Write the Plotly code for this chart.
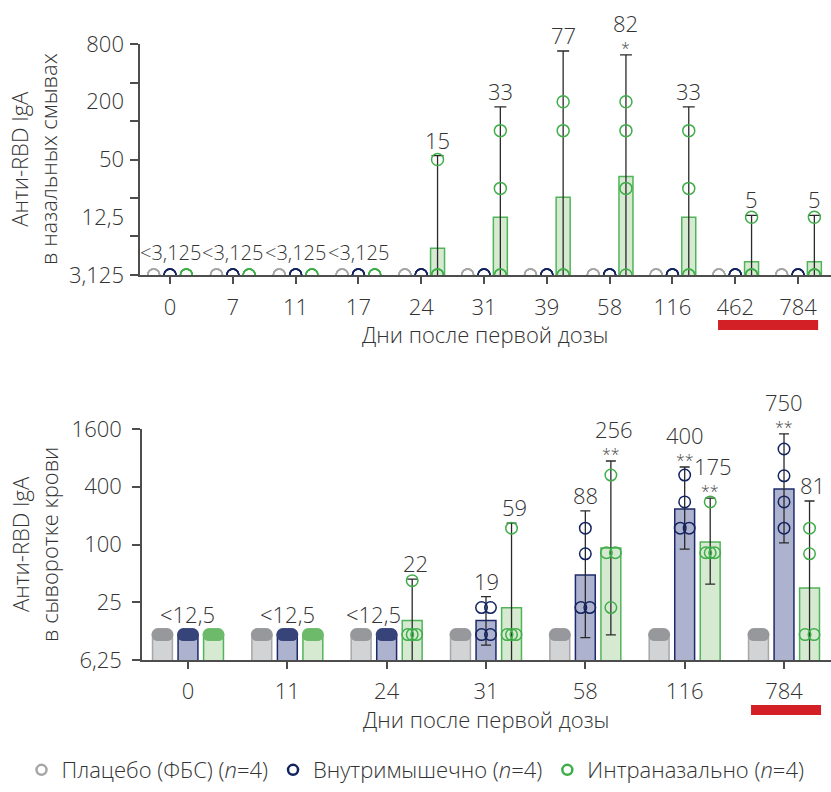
import math
import plotly.graph_objects as go

# ---------------- data: top panel (nasal wash IgA) ----------------
L1 = 3.125  # plotted detection limit, top panel
top_days = ["0", "7", "11", "17", "24", "31", "39", "58", "116", "462", "784"]
top_placebo = [[L1, L1, L1, L1]] * 11
top_im = [[L1, L1, L1, L1]] * 11
top_in = [
    [L1, L1, L1, L1], [L1, L1, L1, L1], [L1, L1, L1, L1], [L1, L1, L1, L1],
    [50, L1, L1, L1], [100, 25, L1, L1], [200, 100, L1, L1], [200, 100, 25, L1],
    [100, 25, L1, L1], [12.5, L1, L1, L1], [12.5, L1, L1, L1],
]
top_in_bar = [None, None, None, None, 5.95, 12.5, 20.2, 33.2, 12.5, 4.3, 4.3]
top_in_err_hi = [None, None, None, None, 55, 177, 676, 615, 177, 13.1, 13.1]
top_in_err_lo = [None, None, None, None, 3.0, 3.0, 3.0, 3.0, 3.0, 3.0, 3.0]
top_in_labels = ["", "", "", "", "15", "33", "77", "82", "33", "5", "5"]
top_in_stars = ["", "", "", "", "", "", "", "*", "", "", ""]
top_lod_label = ["<3,125", "<3,125", "<3,125", "<3,125", "", "", "", "", "", "", ""]
top_y_ticks = [3.125, 7.9, 19.8, 50, 126, 317, 800]
top_y_labels_v = [3.125, 12.5, 50, 200, 800]
top_y_labels_t = ["3,125", "12,5", "50", "200", "800"]

# ---------------- data: bottom panel (serum IgA) ----------------
L2 = 11.5  # plotted detection limit, bottom panel
bot_days = ["0", "11", "24", "31", "58", "116", "784"]
bot_placebo = [[L2, L2, L2, L2]] * 7
bot_im = [
    [L2, L2, L2, L2], [L2, L2, L2, L2], [L2, L2, L2, L2],
    [22, 22, L2, L2], [148, 80, 22, 22], [530, 278, 148, 148], [990, 520, 278, 148],
]
bot_in = [
    [L2, L2, L2, L2], [L2, L2, L2, L2], [42, L2, L2, L2],
    [148, L2, L2, L2], [530, 82, 82, 22], [278, 82, 82, 82], [148, 80, L2, L2],
]
bot_placebo_bar = [11.5, 11.5, 11.5, 11.5, 11.5, 11.5, 11.5]
bot_im_bar = [11.5, 11.5, 11.5, 16.1, 48, 234, 379]
bot_in_bar = [11.5, 11.5, 16.1, 21.9, 92, 106, 35.2]
bot_im_err_hi = [None, None, None, 28.6, 224, 643, 1420]
bot_im_err_lo = [None, None, None, 8.95, 10.7, 89.6, 104]
bot_in_err_hi = [None, None, 43.6, 167, 742, 305, 284]
bot_in_err_lo = [None, None, 6.0, 6.0, 11.4, 38.7, 6.0]
bot_im_labels = ["", "", "", "19", "88", "400", "750"]
bot_im_stars = ["", "", "", "", "", "**", "**"]
bot_in_labels = ["", "", "22", "59", "256", "175", "81"]
bot_in_stars = ["", "", "", "", "**", "**", ""]
bot_lod_label = ["<12,5", "<12,5", "<12,5", "", "", "", ""]
bot_y_labels_v = [6.25, 25, 100, 400, 1600]
bot_y_labels_t = ["6,25", "25", "100", "400", "1600"]

series_names = ["Плацебо (ФБС) (<i>n</i>=4)", "Внутримышечно (<i>n</i>=4)", "Интраназально (<i>n</i>=4)"]

# ---------------- styles ----------------
W, H = 831, 792
FONT = "'Open Sans', 'Noto Sans', sans-serif"
FW = 300
FS = 22
TXT = "#333333"
AX = "#4d4d4d"
ERR = "#2a2a2a"
STAR = "#4a4a4a"
pt_col = ["#a6a6a6", "#13235f", "#3fae49"]
bar_fill = ["#d2d3d5", "#adb2cf", "#d6ead2"]
bar_line = ["#a7a7a9", "#1d2b6a", "#52b45a"]
cap_fill = ["#97989b", "#37447a", "#6cba6a"]
RED = "#d32027"

top_off = [-0.26, 0.0, 0.26]
bot_off = [-0.257, 0.0, 0.257]


def fnt(size=FS, color=TXT):
    return dict(size=size, color=color, family=FONT, weight=FW)


fig = go.Figure()


def err_arrays(bar, hi, lo):
    up, dn = [], []
    for b, h, l in zip(bar, hi, lo):
        if b is None or h is None:
            up.append(float("nan"))
            dn.append(float("nan"))
        else:
            up.append(h - b)
            dn.append(b - l)
    return up, dn


def swarm(vals, center, span):
    counts = {}
    for v in vals:
        counts[v] = counts.get(v, 0) + 1
    seen = {}
    xs = []
    for v in vals:
        k = counts[v]
        i = seen.get(v, 0)
        seen[v] = i + 1
        xs.append(center if k == 1 else center - span / 2 + span * i / (k - 1))
    return xs


# ---------- top panel ----------
up, dn = err_arrays(top_in_bar, top_in_err_hi, top_in_err_lo)
fig.add_trace(go.Bar(
    x=[i + top_off[2] for i in range(len(top_days))],
    y=[b if b is not None else float("nan") for b in top_in_bar],
    width=0.223,
    marker=dict(color=bar_fill[2], line=dict(color=bar_line[2], width=1.5)),
    error_y=dict(type="data", array=up, arrayminus=dn, symmetric=False,
                 color=ERR, thickness=1.3, width=6),
    xaxis="x", yaxis="y", showlegend=False, hoverinfo="skip"))

for s, groups in enumerate([top_placebo, top_im, top_in]):
    xs, ys = [], []
    for i, vals in enumerate(groups):
        xs += swarm(vals, i + top_off[s], 0.0)
        ys += vals
    fig.add_trace(go.Scatter(
        x=xs, y=ys, mode="markers", xaxis="x", yaxis="y", showlegend=False,
        marker=dict(symbol="circle-open", size=12, color=pt_col[s], line=dict(width=1.5)),
        hoverinfo="skip"))

# ---------- bottom panel ----------
bot_bars = [bot_placebo_bar, bot_im_bar, bot_in_bar]
bot_hi = [[None] * 7, bot_im_err_hi, bot_in_err_hi]
bot_lo = [[None] * 7, bot_im_err_lo, bot_in_err_lo]
for s in range(3):
    up, dn = err_arrays(bot_bars[s], bot_hi[s], bot_lo[s])
    fig.add_trace(go.Bar(
        x=[i + bot_off[s] for i in range(len(bot_days))],
        y=bot_bars[s], width=0.2,
        marker=dict(color=bar_fill[s], line=dict(color=bar_line[s], width=1.5)),
        error_y=dict(type="data", array=up, arrayminus=dn, symmetric=False,
                     color=ERR, thickness=1.3, width=5),
        xaxis="x2", yaxis="y2", showlegend=False, hoverinfo="skip"))

for s, groups in enumerate([bot_placebo, bot_im, bot_in]):
    ox, oy, fx, fy = [], [], [], []
    for i, vals in enumerate(groups):
        xs = swarm(vals, i + bot_off[s], 0.09)
        if len(set(vals)) == 1:
            fx += xs
            fy += vals
        else:
            ox += xs
            oy += vals
    fig.add_trace(go.Scatter(
        x=fx, y=fy, mode="markers", xaxis="x2", yaxis="y2", showlegend=False,
        marker=dict(symbol="circle", size=13, color=cap_fill[s], line=dict(width=0)),
        hoverinfo="skip"))
    fig.add_trace(go.Scatter(
        x=ox, y=oy, mode="markers", xaxis="x2", yaxis="y2", showlegend=False,
        marker=dict(symbol="circle-open", size=11.5, color=pt_col[s], line=dict(width=1.5)),
        hoverinfo="skip"))

# legend-only traces
for s in range(3):
    fig.add_trace(go.Scatter(
        x=[None], y=[None], mode="markers", name=series_names[s], xaxis="x2", yaxis="y2",
        marker=dict(symbol="circle-open", size=10, color=pt_col[s], line=dict(width=2.5))))

# dummy trace so the top label axis is created
fig.add_trace(go.Scatter(x=[None], y=[None], xaxis="x", yaxis="y3", showlegend=False,
                         hoverinfo="skip"))

# ---------- annotations ----------
ann = []


def lab(text, x, y, xref, yref, shift, size=FS, color=TXT, xshift=0):
    ann.append(dict(text=text, x=x, y=math.log10(y), xref=xref, yref=yref, showarrow=False,
                    yanchor="middle", yshift=shift, xshift=xshift, font=fnt(size, color)))


def value_label(t, st, x, hi, xref, yref, xshift=0):
    if st:
        lab(st, x, hi, xref, yref, 7, size=16, color=STAR)
        lab(t, x, hi, xref, yref, 32, xshift=xshift)
    else:
        lab(t, x, hi, xref, yref, 16, xshift=xshift)


for i, t in enumerate(top_lod_label):
    if t:
        lab(t, i, L1, "x", "y", 23, size=20)
for i, (t, st) in enumerate(zip(top_in_labels, top_in_stars)):
    if t:
        value_label(t, st, i + top_off[2], top_in_err_hi[i], "x", "y")

for i, t in enumerate(bot_lod_label):
    if t:
        below = [bot_off[s] for s, g in enumerate([bot_placebo, bot_im, bot_in]) if len(set(g[i])) == 1]
        lab(t, i + sum(below) / len(below), L2, "x2", "y2", 21)
for labels, stars, his, s in [(bot_im_labels, bot_im_stars, bot_im_err_hi, 1),
                              (bot_in_labels, bot_in_stars, bot_in_err_hi, 2)]:
    for i, (t, st) in enumerate(zip(labels, stars)):
        if t:
            value_label(t, st, i + bot_off[s], his[i], "x2", "y2", xshift=3 if s == 2 else 0)

# axis titles
for text, x, y, ang in [
    ("Дни после первой дозы", 485 / W, 1 - 334 / H, 0),
    ("Дни после первой дозы", 487 / W, 1 - 719 / H, 0),
    ("Анти-RBD IgA<br>в назальных смывах", 34 / W, 1 - 159 / H, -90),
    ("Анти-RBD IgA<br>в сыворотке крови", 34 / W, 1 - 545 / H, -90),
]:
    ann.append(dict(text=text, x=x, y=y, xref="paper", yref="paper", showarrow=False,
                    xanchor="center", yanchor="middle", textangle=ang, font=fnt()))

# red bars under late time points
shapes = [
    dict(type="rect", xref="x", yref="y domain",
         x0=top_days.index("462") - 0.274, x1=top_days.index("784") + 0.32,
         y0=-0.238, y1=-0.195, fillcolor=RED, line=dict(width=0), layer="above"),
    dict(type="rect", xref="x2", yref="y2 domain",
         x0=bot_days.index("784") - 0.332, x1=bot_days.index("784") + 0.373,
         y0=-0.238, y1=-0.195, fillcolor=RED, line=dict(width=0), layer="above"),
]

axis_common = dict(showline=True, linecolor=AX, linewidth=1.5, ticks="outside",
                   tickcolor=AX, tickwidth=1.5, showgrid=False, zeroline=False,
                   automargin=False, tickfont=fnt())

fig.update_layout(
    width=W, height=H, margin=dict(l=0, r=0, t=0, b=0, pad=0, autoexpand=False),
    paper_bgcolor="white", plot_bgcolor="white", barmode="overlay",
    font=fnt(),
    xaxis=dict(domain=[140 / W, 1.0], range=[-0.478, 10.525], anchor="y",
               tickmode="array", tickvals=list(range(len(top_days))), ticktext=top_days,
               ticklen=7, ticklabelstandoff=5, **axis_common),
    yaxis=dict(domain=[1 - 275 / H, 1 - 44 / H], type="log",
               range=[math.log10(3.125), math.log10(800)], anchor="x",
               tickmode="array", tickvals=top_y_ticks, ticktext=[""] * len(top_y_ticks),
               ticklen=8, **axis_common),
    yaxis3=dict(type="log", range=[math.log10(3.125), math.log10(800)], overlaying="y",
                anchor="x", side="left", tickmode="array", tickvals=top_y_labels_v,
                ticktext=top_y_labels_t, ticks="", showline=False, showgrid=False,
                zeroline=False, automargin=False, ticklabelstandoff=15, tickfont=fnt()),
    xaxis2=dict(domain=[142 / W, 1.0], range=[-0.463, 6.473], anchor="y2",
                tickmode="array", tickvals=list(range(len(bot_days))), ticktext=bot_days,
                ticklen=7, ticklabelstandoff=4, **axis_common),
    yaxis2=dict(domain=[1 - 660 / H, 1 - 429 / H], type="log",
                range=[math.log10(6.25), math.log10(1600)], anchor="x2",
                tickmode="array", tickvals=bot_y_labels_v, ticktext=bot_y_labels_t,
                ticklen=8, ticklabelstandoff=6, **axis_common),
    legend=dict(orientation="h", x=0.5, xanchor="center", y=1 - 770 / H, yanchor="middle",
                font=fnt(), bgcolor="rgba(0,0,0,0)",
                itemclick=False, itemdoubleclick=False),
    annotations=ann, shapes=shapes,
)

fig.write_html("out.html", config={"displayModeBar": False},
               post_script="document.body.style.margin='0';document.body.style.overflow='hidden';")
